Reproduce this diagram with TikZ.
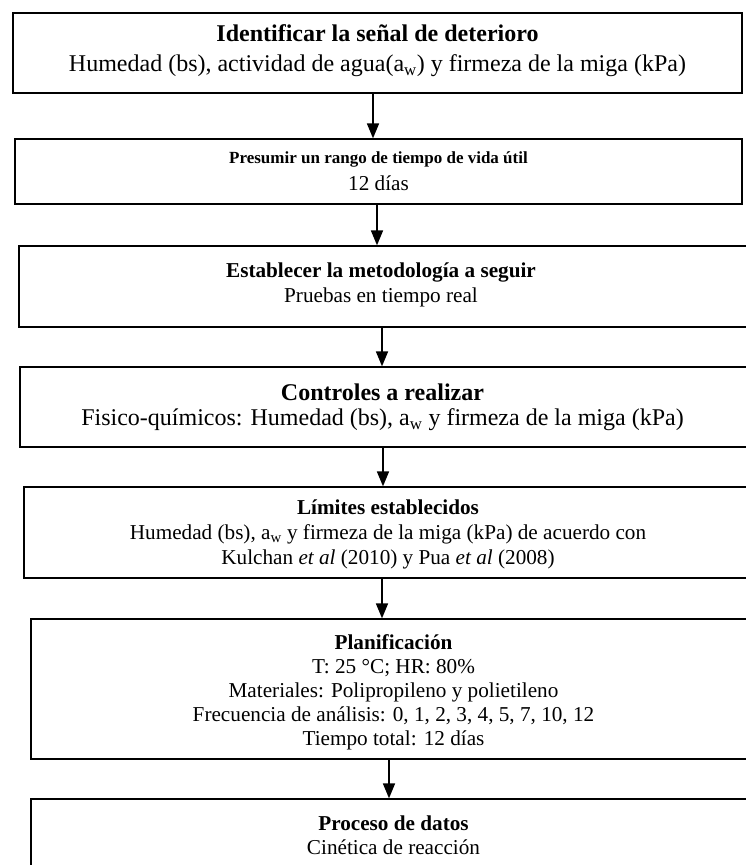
\documentclass[tikz,border=0pt]{standalone}
\usepackage{fontspec}
\setmainfont{Liberation Serif}
\usetikzlibrary{arrows.meta,positioning}

\begin{document}
\begin{tikzpicture}[x=1pt, y=1pt,
  box/.style={draw, line width=1.3pt, inner sep=0pt},
  big/.style={inner sep=0pt, align=center, font=\fontsize{24}{30}\selectfont},
  small/.style={inner sep=0pt, align=center, font=\fontsize{21.2}{24}\selectfont},
  flow/.style={line width=1.7pt, -{Triangle[length=15pt, width=12pt]}}]

% page = 746 x 865 px, 1px = 1pt
\useasboundingbox (0,0) rectangle (746,-865);

% --- Boxes (the lower ones run past the right edge, as in the scan) ---
\node[box, minimum width=729, minimum height=80]  (ident)  at (377.5,-53)    {};
\node[box, minimum width=727, minimum height=65]  (vida)   at (378.5,-171.5) {};
\node[box, minimum width=737, minimum height=81]  (metodo) at (387.5,-286.5) {};
\node[box, minimum width=736, minimum height=80]  (ctrl)   at (388,-407)     {};
\node[box, minimum width=732, minimum height=91]  (lim)    at (390,-532.5)   {};
\node[box, minimum width=725, minimum height=140] (plan)   at (393.5,-689)   {};
\node[box, minimum width=725, minimum height=71]  (datos)  at (393.5,-834.5) {};

% --- Texts ---
\node[big, below=12pt of ident.north] (t-ident)
  {\textbf{Identificar la señal de deterioro}\\
   Humedad (bs), actividad de agua(a\textsubscript{w}) y firmeza de la miga (kPa)};
\node[small, below=13.5pt of vida.north] (t-vida)
  {{\fontsize{17}{24}\selectfont\textbf{Presumir un rango de tiempo de vida útil}}\\[3pt]12 días};
\node[small, font=\fontsize{21.2}{25}\selectfont, below=17pt of metodo.north, xshift=-6.5pt] (t-metodo)
  {\textbf{Establecer la metodología a seguir}\\Pruebas en tiempo real};
\node[big, font=\fontsize{24}{25}\selectfont, below=17.5pt of ctrl.north, xshift=-5.5pt] (t-ctrl)
  {\textbf{Controles a realizar}\\
   Fisico-químicos: Humedad (bs), a\textsubscript{w} y firmeza de la miga (kPa)};
\node[small, font=\fontsize{21.2}{25}\selectfont, below=13.5pt of lim.north, xshift=-2pt] (t-lim)
  {\textbf{Límites establecidos}\\
   Humedad (bs), a\textsubscript{w} y firmeza de la miga (kPa) de acuerdo con\\
   Kulchan \textit{et al} (2010) y Pua \textit{et al} (2008)};
\node[small, below=16.5pt of plan.north] (t-plan)
  {\textbf{Planificación}\\
   T: 25 °C; HR: 80\%\\
   Materiales: Polipropileno y polietileno\\
   Frecuencia de análisis: 0, 1, 2, 3, 4, 5, 7, 10, 12\\
   Tiempo total: 12 días};
\node[small, below=17.5pt of datos.north] (t-datos)
  {\textbf{Proceso de datos}\\Cinética de reacción};

% --- Arrows ---
\draw[flow] ([xshift=-4.5pt]ident.south)  -- ([xshift=-4.5pt]ident.south |- vida.north);
\draw[flow] ([xshift=-1.5pt]vida.south)   -- ([xshift=-1.5pt]vida.south |- metodo.north);
\draw[flow] ([xshift=-5.5pt]metodo.south) -- ([xshift=-5.5pt]metodo.south |- ctrl.north);
\draw[flow] ([xshift=-5pt]ctrl.south)     -- ([xshift=-5pt]ctrl.south |- lim.north);
\draw[flow] ([xshift=-8pt]lim.south)      -- ([xshift=-8pt]lim.south |- plan.north);
\draw[flow] ([xshift=-4.5pt]plan.south)   -- ([xshift=-4.5pt]plan.south |- datos.north);

\end{tikzpicture}
\end{document}
